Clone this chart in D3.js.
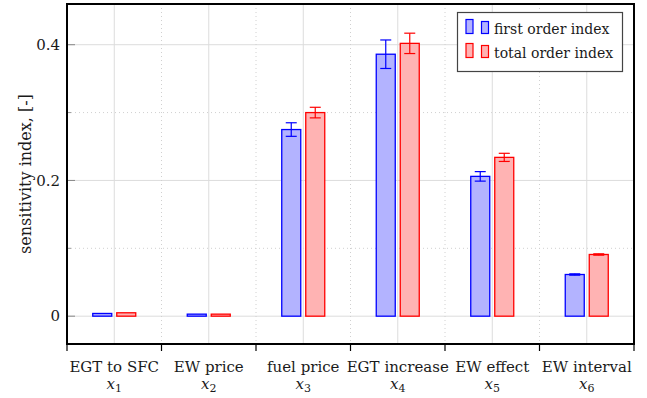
<!DOCTYPE html>
<html>
<head>
<meta charset="utf-8">
<script src="https://cdn.jsdelivr.net/npm/d3@7"></script>
<style>
  html, body { margin: 0; padding: 0; background: #fff; }
  svg { display: block; }
</style>
</head>
<body>
<svg id="chart" width="647" height="398" font-family="'DejaVu Serif', 'Liberation Serif', serif"></svg>
<script>
// Sensitivity indices per input parameter
const categories = ["EGT to SFC", "EW price", "fuel price", "EGT increase", "EW effect", "EW interval"];
const symbols = ["1", "2", "3", "4", "5", "6"];
const firstOrder = [0.004, 0.003, 0.275, 0.386, 0.206, 0.0614];
const firstOrderErr = [0.0005, 0.0005, 0.010, 0.021, 0.007, 0.001];
const totalOrder = [0.005, 0.003, 0.300, 0.402, 0.234, 0.0909];
const totalOrderErr = [0.0005, 0.0005, 0.0078, 0.015, 0.006, 0.001];
const majorTicks = [0, 0.2, 0.4];
const minorTicks = [0.1, 0.3];
const seriesNames = ["first order index", "total order index"];

(function () {
const svg = d3.select("#chart");
const pLeft = 67, pRight = 634, pTop = 4, pBottom = 344;
const ink = "#1a1a1a";

const x = d3.scaleBand().domain(categories).range([pLeft, pRight]).padding(0);
const y = d3.scaleLinear().domain([-0.041, 0.46]).range([pBottom, pTop]);

const series = [
  { name: seriesNames[0], values: firstOrder, errs: firstOrderErr, stroke: "#0000ff", fill: "#b3b3ff", offset: -12 },
  { name: seriesNames[1], values: totalOrder, errs: totalOrderErr, stroke: "#ff0000", fill: "#ffb3b3", offset: 12 }
];
const barW = 19;

// Grid
const grid = svg.append("g");
grid.selectAll(".hmaj").data(majorTicks).join("line")
  .attr("x1", pLeft).attr("x2", pRight)
  .attr("y1", d => y(d)).attr("y2", d => y(d))
  .attr("stroke", "#dcdcdc").attr("stroke-width", 1);
grid.selectAll(".hmin").data(minorTicks).join("line")
  .attr("x1", pLeft).attr("x2", pRight)
  .attr("y1", d => y(d)).attr("y2", d => y(d))
  .attr("stroke", "#d0d0d0").attr("stroke-width", 1).attr("stroke-dasharray", "1,3");
grid.selectAll(".vmaj").data(categories).join("line")
  .attr("x1", d => x(d) + x.bandwidth() / 2).attr("x2", d => x(d) + x.bandwidth() / 2)
  .attr("y1", pTop).attr("y2", pBottom)
  .attr("stroke", "#dcdcdc").attr("stroke-width", 1);
grid.selectAll(".vmin").data(categories.slice(1)).join("line")
  .attr("x1", d => x(d)).attr("x2", d => x(d))
  .attr("y1", pTop).attr("y2", pBottom)
  .attr("stroke", "#d0d0d0").attr("stroke-width", 1).attr("stroke-dasharray", "1,3");

// Y ticks (inward, short)
const yt = svg.append("g");
yt.selectAll(".ytm").data(majorTicks).join("line")
  .attr("x1", pLeft).attr("x2", pLeft + 8)
  .attr("y1", d => y(d)).attr("y2", d => y(d))
  .attr("stroke", "#888").attr("stroke-width", 1);
yt.selectAll(".ytn").data(minorTicks).join("line")
  .attr("x1", pLeft).attr("x2", pLeft + 4)
  .attr("y1", d => y(d)).attr("y2", d => y(d))
  .attr("stroke", "#999").attr("stroke-width", 1);

// Y axis labels
const fmt = d => d === 0 ? "0" : d3.format(".1f")(d);
svg.append("g").selectAll("text").data(majorTicks).join("text")
  .attr("x", 60).attr("y", d => y(d)).attr("dy", "0.35em")
  .attr("text-anchor", "end").attr("font-size", 15).attr("fill", ink)
  .text(fmt);

svg.append("text")
  .attr("transform", `translate(25,174) rotate(-90)`)
  .attr("text-anchor", "middle").attr("dy", "0.35em").attr("font-size", 16).attr("fill", ink)
  .text("sensitivity index, [-]");

// Bars and error bars
series.forEach(s => {
  const g = svg.append("g");
  const cx = i => x(categories[i]) + x.bandwidth() / 2 + s.offset;
  g.selectAll("rect").data(s.values).join("rect")
    .attr("x", (d, i) => cx(i) - barW / 2)
    .attr("y", d => y(d))
    .attr("width", barW)
    .attr("height", d => y(0) - y(d))
    .attr("fill", s.fill).attr("stroke", s.stroke).attr("stroke-width", 1.3);
  s.values.forEach((v, i) => {
    const c = cx(i), e = s.errs[i];
    if (e < 0.0008) return;
    g.append("line").attr("x1", c).attr("x2", c).attr("y1", y(v + e)).attr("y2", y(v - e))
      .attr("stroke", s.stroke).attr("stroke-width", 1.2);
    [v + e, v - e].forEach(t => {
      g.append("line").attr("x1", c - 5.5).attr("x2", c + 5.5).attr("y1", y(t)).attr("y2", y(t))
        .attr("stroke", s.stroke).attr("stroke-width", 1.2);
    });
  });
});

// Frame
svg.append("rect").attr("x", pLeft).attr("y", pTop)
  .attr("width", pRight - pLeft).attr("height", pBottom - pTop)
  .attr("fill", "none").attr("stroke", "#000").attr("stroke-width", 2);

// X tick marks at category boundaries
const bounds = categories.map(c => x(c)).concat([pRight]);
svg.append("g").selectAll("line").data(bounds).join("line")
  .attr("x1", d => d).attr("x2", d => d)
  .attr("y1", pBottom).attr("y2", pBottom + 7)
  .attr("stroke", "#000").attr("stroke-width", 1.2);

// Category labels
const xl = svg.append("g").attr("fill", ink);
categories.forEach((c, i) => {
  const cx = x(c) + x.bandwidth() / 2;
  xl.append("text").attr("x", cx).attr("y", 371.5)
    .attr("text-anchor", "middle").attr("font-size", 15).text(c);
  const t = xl.append("text").attr("x", cx).attr("y", 389)
    .attr("text-anchor", "middle").attr("font-size", 15);
  t.append("tspan").attr("font-style", "italic").text("x");
  t.append("tspan").attr("font-size", 11).attr("dy", 3).text(symbols[i]);
});

// Legend
const lg = svg.append("g");
lg.append("rect").attr("x", 457.5).attr("y", 12.5).attr("width", 165).attr("height", 59)
  .attr("fill", "#fff").attr("stroke", "#444").attr("stroke-width", 1.2);
series.forEach((s, i) => {
  const yb = 33.5 + i * 24;
  lg.append("rect").attr("x", 466).attr("y", yb - 14).attr("width", 7).attr("height", 14)
    .attr("fill", s.fill).attr("stroke", s.stroke).attr("stroke-width", 1.2);
  lg.append("rect").attr("x", 481.5).attr("y", yb - 12).attr("width", 7).attr("height", 12)
    .attr("fill", s.fill).attr("stroke", s.stroke).attr("stroke-width", 1.2);
  lg.append("text").attr("x", 494).attr("y", yb).attr("font-size", 14).attr("fill", ink).text(s.name);
});
})();
</script>
</body>
</html>
